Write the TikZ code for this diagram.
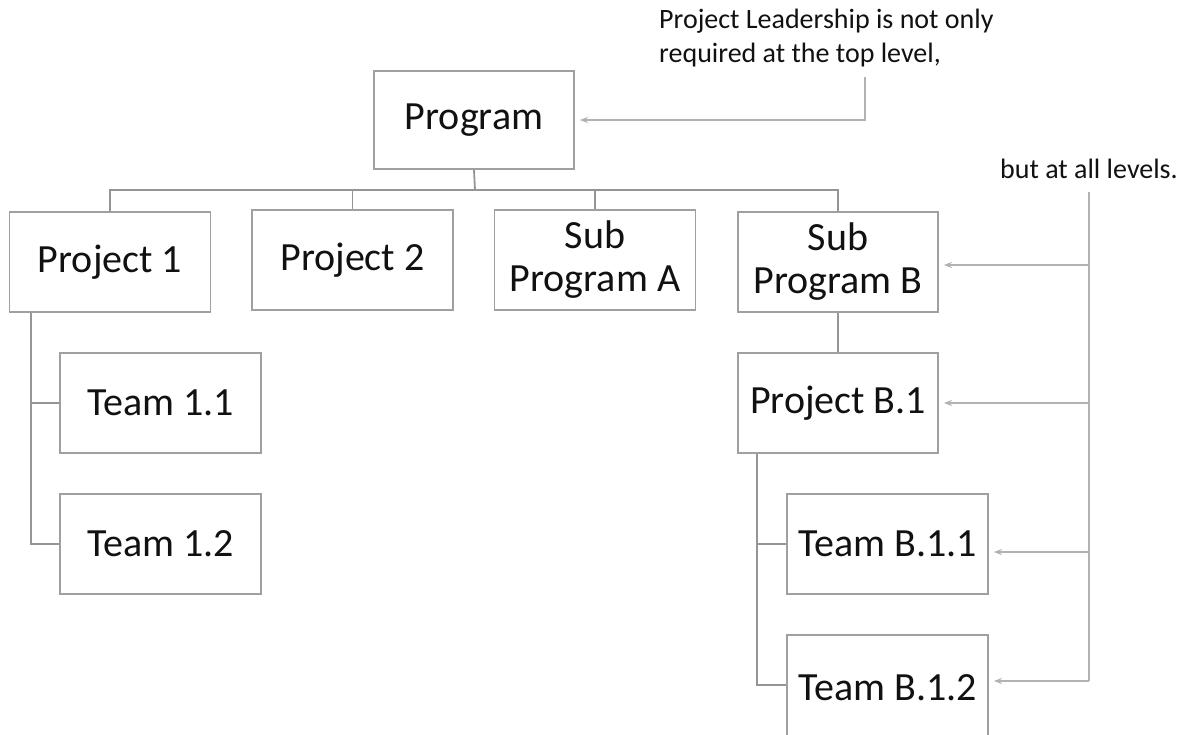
\documentclass[tikz,border=0pt]{standalone}
\usepackage{fontspec}
\setmainfont{Carlito}
\usetikzlibrary{arrows.meta,calc}
\definecolor{boxgray}{HTML}{A0A0A0}
\definecolor{linegray}{HTML}{959595}
\definecolor{arrgray}{HTML}{B2B2B2}
\definecolor{txt}{HTML}{111111}
\begin{document}
\begin{tikzpicture}[x=1pt,y=-1pt,
  orgbox/.style={draw=boxgray,line width=1.8pt,fill=white,minimum width=201pt,minimum height=100pt,inner sep=0pt,align=center,font=\fontsize{40}{43}\selectfont,text=txt},
  tree/.style={draw=linegray,line width=1.8pt},
  note/.style={draw=arrgray,line width=1.4pt,-{Stealth[length=8pt,width=6pt]},shorten >=5pt},
  notetext/.style={font=\fontsize{28}{34}\selectfont,text=txt,inner sep=0pt,align=left}]
\clip (0,0) rectangle (1182,734);
\fill[white] (0,0) rectangle (1182,734);

% boxes
\node[orgbox,minimum width=200pt,minimum height=98pt] (prog) at (474,120) {Program};
\node[orgbox] (p1)   at (110,262)   {Project 1};
\node[orgbox] (p2)   at (352.5,260) {Project 2};
\node[orgbox] (spa)  at (595,260)   {Sub\\Program A};
\node[orgbox,minimum width=200pt] (spb)  at (838,262)   {Sub\\Program B};
\node[orgbox] (t11)  at (160.5,403) {Team 1.1};
\node[orgbox] (t12)  at (160.5,544) {Team 1.2};
\node[orgbox,minimum width=200pt] (pb1)  at (838,403)   {Project B.1};
\node[orgbox] (tb11) at (887.5,544) {Team B.1.1};
\node[orgbox,minimum height=106pt] (tb12) at (887.5,688) {Team B.1.2};

% tree connectors
\coordinate (bus) at (475,190);
\draw[tree] (prog.south) -- (bus);
\draw[tree] (bus) -| (p1.north);
\draw[tree] (bus) -| (p2.north);
\draw[tree] (bus) -| (spa.north);
\draw[tree] (bus) -| (spb.north);
\draw[tree] (spb.south) -- (pb1.north);

\coordinate (p1l) at ($(p1.south west)+(22,0)$);
\draw[tree] (p1l) |- (t12.west);
\draw[tree] (p1l |- t11.west) -- (t11.west);

\coordinate (pb1l) at ($(pb1.south west)+(20,0)$);
\draw[tree] (pb1l) |- ([yshift=3pt]tb12.west);
\draw[tree] (pb1l |- tb11.west) -- (tb11.west);

% annotations
\node[notetext,anchor=north west] (ann1) at (659,9) {Project Leadership is not only\\required at the top level,};
\node[notetext,anchor=base west] (ann2) at (1000,178) {but at all levels.};

\coordinate (a1) at (865,77);
\draw[note] (a1) |- (prog.east);

\coordinate (a2) at (1089,192);
\coordinate (a2end) at (1089,681);
\draw[draw=arrgray,line width=1.4pt] (a2) -- (a2end);
\draw[note] (a2 |- 0,265) -- ([yshift=-3pt]spb.east);
\draw[note] (a2 |- pb1.east) -- (pb1.east);
\draw[note] (a2 |- 0,552) -- ([yshift=-8pt]tb11.east);
\draw[note] (a2end) -- ([yshift=7pt]tb12.east);
\end{tikzpicture}
\end{document}
